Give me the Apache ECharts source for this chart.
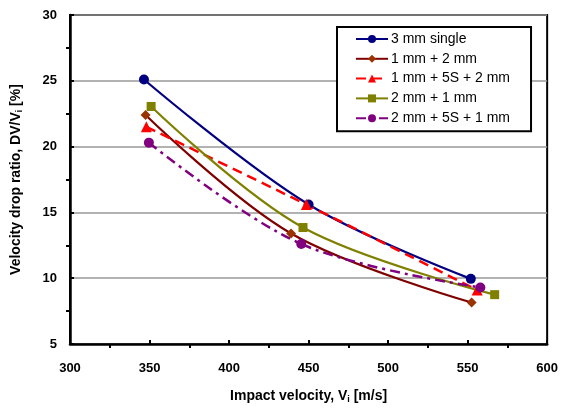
<!DOCTYPE html>
<html lang="en">
<head>
    <meta charset="UTF-8">
    <title></title>
    <script src="https://cdn.jsdelivr.net/npm/echarts@6/dist/echarts.min.js"></script>
</head>
<body style="margin:0;background:#fff;">
<div id="main" style="width: 561px;height:410px;"></div>

<script type="text/javascript">
    var names = ['3 mm single', '1 mm + 2 mm', '1 mm + 5S + 2 mm', '2 mm + 1 mm', '2 mm + 5S + 1 mm'];

    var xSingle3 = [346.5, 450, 552];
    var ySingle3 = [25.1, 15.6, 9.95];
    var x1p2 = [347.5, 439, 552.5];
    var y1p2 = [22.4, 13.4, 8.15];
    var x1s2 = [348, 448.6, 556];
    var y1s2 = [21.5, 15.6, 9.1];
    var x2p1 = [351, 446.5, 567];
    var y2p1 = [23.05, 13.85, 8.75];
    var x2s1 = [349.6, 445.4, 558];
    var y2s1 = [20.3, 12.6, 9.3];

    function pairs(xs, ys) {
        var out = [];
        for (var i = 0; i < xs.length; i++) {
            out.push([xs[i], ys[i]]);
        }
        return out;
    }

    var font = 'Liberation Sans, Arial, sans-serif';
    var myChart = echarts.init(document.getElementById('main'));

    var nameStyle = {
        fontFamily: font, fontSize: 14, fontWeight: 'bold', color: '#000',
        rich: {sub: {fontFamily: font, fontSize: 9, fontWeight: 'bold', color: '#000', padding: [7, 0, 0, 0]}}
    };

    var option = {
        backgroundColor: '#fff',
        animation: false,
        grid: {
            left: 70, top: 15, right: 13, bottom: 66,
            show: true,
            borderColor: '#000',
            borderWidth: 2
        },
        legend: {
            orient: 'vertical',
            left: 337,
            top: 27,
            padding: [5, 21, 6, 18],
            itemGap: 5.8,
            itemWidth: 32,
            itemHeight: 10,
            borderColor: '#000',
            borderWidth: 2,
            backgroundColor: '#fff',
            textStyle: {fontFamily: font, fontSize: 14, color: '#000', padding: [0, 0, 0, -2]},
            data: names
        },
        xAxis: {
            type: 'value',
            min: 300, max: 600, interval: 50,
            name: 'Impact velocity, V{sub|i} [m/s]',
            nameLocation: 'middle',
            nameGap: 44,
            nameTextStyle: nameStyle,
            axisLine: {lineStyle: {color: '#000', width: 2.5}},
            axisTick: {inside: true, length: 4, lineStyle: {color: '#000', width: 2}},
            minorTick: {show: true, splitNumber: 2, length: -4, lineStyle: {color: '#000', width: 2}},
            axisLabel: {margin: 18, fontFamily: font, fontSize: 13, fontWeight: 'bold', color: '#000'},
            splitLine: {show: false}
        },
        yAxis: {
            type: 'value',
            min: 5, max: 30, interval: 5,
            name: 'Velocity drop ratio, DV/V{sub|i} [%]',
            nameLocation: 'middle',
            nameGap: 46,
            nameTextStyle: nameStyle,
            axisLine: {lineStyle: {color: '#000', width: 2.5}},
            axisTick: {inside: true, length: 4, lineStyle: {color: '#000', width: 2}},
            minorTick: {show: true, splitNumber: 2, length: -4, lineStyle: {color: '#000', width: 2}},
            axisLabel: {margin: 13, fontFamily: font, fontSize: 13, fontWeight: 'bold', color: '#000'},
            splitLine: {show: true, lineStyle: {color: '#999', width: 1.5}}
        },
        series: [
            {
                name: names[0], type: 'line', smooth: 0.35,
                data: pairs(xSingle3, ySingle3),
                symbol: 'circle', symbolSize: 10,
                itemStyle: {color: '#000080'},
                lineStyle: {color: '#000080', width: 2.2}
            },
            {
                name: names[1], type: 'line', smooth: 0.35,
                data: pairs(x1p2, y1p2),
                symbol: 'diamond', symbolSize: 10,
                itemStyle: {color: '#993300'},
                lineStyle: {color: '#800000', width: 2.2}
            },
            {
                name: names[2], type: 'line', smooth: 0.35,
                data: pairs(x1s2, y1s2),
                symbol: 'triangle', symbolSize: 11,
                itemStyle: {color: '#ff0000'},
                lineStyle: {color: '#ff0000', width: 2.5, type: [10, 6]}
            },
            {
                name: names[3], type: 'line', smooth: 0.35,
                data: pairs(x2p1, y2p1),
                symbol: 'rect', symbolSize: 9,
                itemStyle: {color: '#808000'},
                lineStyle: {color: '#808000', width: 2.2}
            },
            {
                name: names[4], type: 'line', smooth: 0.35,
                data: pairs(x2s1, y2s1),
                symbol: 'circle', symbolSize: 10,
                itemStyle: {color: '#800080'},
                lineStyle: {color: '#800080', width: 2.5, type: [10, 5, 3, 5]}
            }
        ]
    };
    myChart.setOption(option);
</script>
</body>
</html>
